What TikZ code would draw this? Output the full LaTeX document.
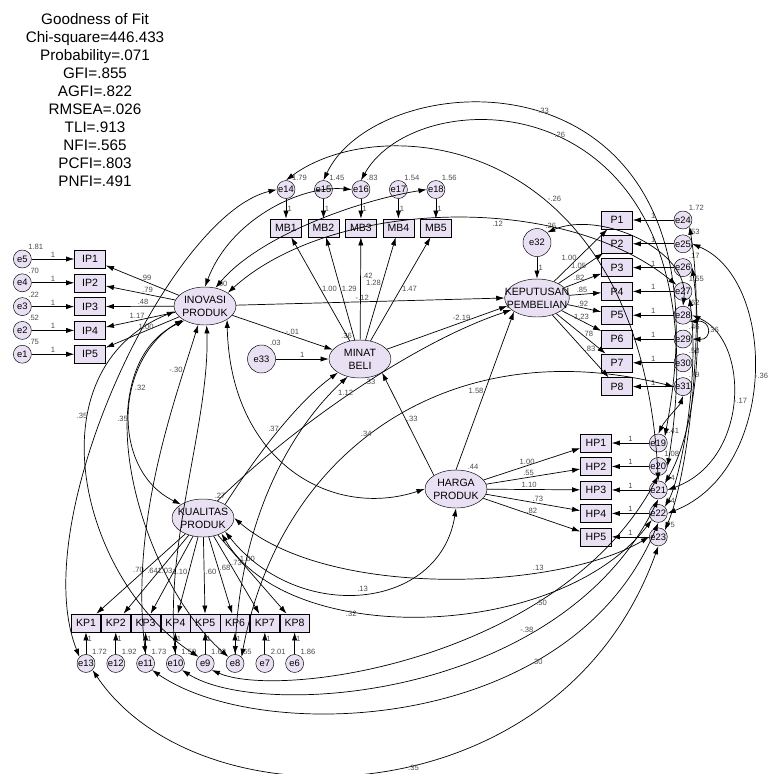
\documentclass[tikz,border=0pt]{standalone}
\usepackage{fontspec}
\setmainfont{Liberation Sans}
\usepackage{xcolor}
\usetikzlibrary{arrows.meta,positioning,shapes.geometric}
\definecolor{lav}{RGB}{233,225,243}

\begin{document}
\begin{tikzpicture}[
    x=0.03cm, y=-0.03cm,
    lat/.style={ellipse, draw, fill=lav, minimum width=1.86cm, minimum height=1.14cm, align=center, inner xsep=-8pt, inner ysep=0pt, font=\fontsize{9}{11}\selectfont},
    ind/.style={draw, fill=lav, minimum width=0.93cm, minimum height=0.54cm, inner sep=0pt, font=\fontsize{9}{10}\selectfont},
    err/.style={circle, draw, fill=lav, minimum size=0.54cm, inner sep=0pt, font=\fontsize{8}{9}\selectfont},
    lbl/.style={font=\fontsize{6.5}{7}\selectfont, text=black!70, inner sep=1pt},
    vlab/.style={label={[lbl]60:#1}},
    arrow/.style={-{Latex[length=7pt,width=4.5pt]}, line width=0.6pt},
    cov/.style={{Latex[length=7pt,width=4.5pt]}-{Latex[length=7pt,width=4.5pt]}, line width=0.6pt}
]
\useasboundingbox (0,0) rectangle (773,774);

% fit indices
\node[align=center, font=\fontsize{13}{15.3}\selectfont] (gof) at (95,100) {Goodness of Fit\\Chi-square=446.433\\Probability=.071\\GFI=.855\\AGFI=.822\\RMSEA=.026\\TLI=.913\\NFI=.565\\PCFI=.803\\PNFI=.491};

% latent variables
\node[lat, label={[lbl]60:.30}] (INOV) at (205,306) {INOVASI\\PRODUK};
\node[lat, label={[lbl]110:.36}, label={[lbl]-80:.33}] (MINAT) at (360,359) {MINAT\\BELI};
\node[lat] (KEP) at (537,298) {KEPUTUSAN\\PEMBELIAN};
\node[lat, label={[lbl]60:.44}] (HARGA) at (456,489) {HARGA\\PRODUK};
\node[lat, label={[lbl]60:.27}] (KUAL) at (203,518) {KUALITAS\\PRODUK};
\node[err, minimum size=0.84cm, vlab=.03, left=1.59cm of MINAT] (e33) {e33};
\node[err, minimum size=0.84cm, vlab=.26, above=0.66cm of KEP] (e32) {e32};

% inovasi produk
\node[ind] (IP1) at (90,259) {IP1};
\node[ind, below=0.16cm of IP1] (IP2) {IP2};
\node[ind, below=0.16cm of IP2] (IP3) {IP3};
\node[ind, below=0.16cm of IP3] (IP4) {IP4};
\node[ind, below=0.16cm of IP4] (IP5) {IP5};
\node[err, vlab=1.81, left=1.28cm of IP1] (e5) {e5};
\node[err, vlab=.70, left=1.28cm of IP2] (e4) {e4};
\node[err, vlab=.22, left=1.28cm of IP3] (e3) {e3};
\node[err, vlab=.52, left=1.28cm of IP4] (e2) {e2};
\node[err, vlab=.75, left=1.28cm of IP5] (e1) {e1};

% minat beli
\node[ind] (MB1) at (286,228) {MB1};
\node[ind, right=0.18cm of MB1] (MB2) {MB2};
\node[ind, right=0.18cm of MB2] (MB3) {MB3};
\node[ind, right=0.18cm of MB3] (MB4) {MB4};
\node[ind, right=0.18cm of MB4] (MB5) {MB5};
\node[err, vlab=1.79, above=0.6cm of MB1] (e14) {e14};
\node[err, vlab=1.45, above=0.6cm of MB2] (e15) {e15};
\node[err, vlab=.83, above=0.6cm of MB3] (e16) {e16};
\node[err, vlab=1.54, above=0.6cm of MB4] (e17) {e17};
\node[err, vlab=1.56, above=0.6cm of MB5] (e18) {e18};

% keputusan pembelian
\node[ind] (P1) at (617,220) {P1};
\node[ind, below=0.16cm of P1] (P2) {P2};
\node[ind, below=0.16cm of P2] (P3) {P3};
\node[ind, below=0.16cm of P3] (P4) {P4};
\node[ind, below=0.16cm of P4] (P5) {P5};
\node[ind, below=0.16cm of P5] (P6) {P6};
\node[ind, below=0.16cm of P6] (P7) {P7};
\node[ind, below=0.16cm of P7] (P8) {P8};
\node[err, vlab=1.72, right=1.23cm of P1] (e24) {e24};
\node[err, vlab=.53, right=1.23cm of P2] (e25) {e25};
\node[err, vlab=.17, right=1.23cm of P3] (e26) {e26};
\node[err, vlab=1.55, right=1.23cm of P4] (e27) {e27};
\node[err, vlab=.62, right=1.23cm of P5] (e28) {e28};
\node[err, vlab=.46, right=1.23cm of P6] (e29) {e29};
\node[err, vlab=.58, right=1.23cm of P7] (e30) {e30};
\node[err, vlab=.79, right=1.23cm of P8] (e31) {e31};

% harga produk
\node[ind] (HP1) at (596,443) {HP1};
\node[ind, below=0.15cm of HP1] (HP2) {HP2};
\node[ind, below=0.15cm of HP2] (HP3) {HP3};
\node[ind, below=0.15cm of HP3] (HP4) {HP4};
\node[ind, below=0.15cm of HP4] (HP5) {HP5};
\node[err, vlab=1.41, right=1.12cm of HP1] (e19) {e19};
\node[err, vlab=1.08, right=1.12cm of HP2] (e20) {e20};
\node[err, vlab=.54, right=1.12cm of HP3] (e21) {e21};
\node[err, vlab=.84, right=1.12cm of HP4] (e22) {e22};
\node[err, vlab=.75, right=1.12cm of HP5] (e23) {e23};

% kualitas produk
\node[ind, minimum width=0.88cm] (KP1) at (86,623) {KP1};
\node[ind, minimum width=0.88cm, right=0cm of KP1] (KP2) {KP2};
\node[ind, minimum width=0.88cm, right=0cm of KP2] (KP3) {KP3};
\node[ind, minimum width=0.88cm, right=0cm of KP3] (KP4) {KP4};
\node[ind, minimum width=0.88cm, right=0cm of KP4] (KP5) {KP5};
\node[ind, minimum width=0.88cm, right=0cm of KP5] (KP6) {KP6};
\node[ind, minimum width=0.88cm, right=0cm of KP6] (KP7) {KP7};
\node[ind, minimum width=0.88cm, right=0cm of KP7] (KP8) {KP8};
\node[err, vlab=1.72, below=0.66cm of KP1] (e13) {e13};
\node[err, vlab=1.92, below=0.66cm of KP2] (e12) {e12};
\node[err, vlab=1.73, below=0.66cm of KP3] (e11) {e11};
\node[err, vlab=1.59, below=0.66cm of KP4] (e10) {e10};
\node[err, vlab=1.63, below=0.66cm of KP5] (e9) {e9};
\node[err, vlab=.65, below=0.66cm of KP6] (e8) {e8};
\node[err, vlab=2.01, below=0.66cm of KP7] (e7) {e7};
\node[err, vlab=1.86, below=0.66cm of KP8] (e6) {e6};

% loadings
\draw[arrow] (INOV) -- node[lbl, pos=0.45, above] {.99} (IP1);
\draw[arrow] (INOV) -- node[lbl, pos=0.4, above] {.79} (IP2);
\draw[arrow] (INOV) -- node[lbl, pos=0.45, above] {.48} (IP3);
\draw[arrow] (INOV) -- node[lbl, pos=0.55, above] {1.17} (IP4);
\draw[arrow] (INOV) -- node[lbl, pos=0.45, above] {1.00} (IP5);
\draw[arrow] (MINAT) -- node[lbl, pos=0.5, right] {1.00} (MB1);
\draw[arrow] (MINAT) -- node[lbl, pos=0.5, right] {1.29} (MB2);
\draw[arrow] (MINAT) -- node[lbl, pos=0.62, right] {.42} (MB3);
\draw[arrow] (MINAT) -- node[lbl, pos=0.56, left] {1.28} (MB4);
\draw[arrow] (MINAT) -- node[lbl, pos=0.5, right] {1.47} (MB5);
\draw[arrow] (KEP) -- node[lbl, pos=0.45, left] {1.00} (P1);
\draw[arrow] (KEP) -- node[lbl, pos=0.45, above] {1.05} (P2);
\draw[arrow] (KEP) -- node[lbl, pos=0.4, above] {.82} (P3);
\draw[arrow] (KEP) -- node[lbl, pos=0.4, above] {.85} (P4);
\draw[arrow] (KEP) -- node[lbl, pos=0.45, above] {.92} (P5);
\draw[arrow] (KEP) -- node[lbl, pos=0.5, above] {1.23} (P6);
\draw[arrow] (KEP) -- node[lbl, pos=0.5, right] {.78} (P7);
\draw[arrow] (KEP) -- node[lbl, pos=0.55, right] {.83} (P8);
\draw[arrow] (HARGA) -- node[lbl, pos=0.45, above] {1.00} (HP1);
\draw[arrow] (HARGA) -- node[lbl, pos=0.45, above] {.55} (HP2);
\draw[arrow] (HARGA) -- node[lbl, pos=0.45, above] {1.10} (HP3);
\draw[arrow] (HARGA) -- node[lbl, pos=0.55, above] {.73} (HP4);
\draw[arrow] (HARGA) -- node[lbl, pos=0.5, above] {.82} (HP5);
\draw[arrow] (KUAL) -- node[lbl, pos=0.45, left] {.70} (KP1);
\draw[arrow] (KUAL) -- node[lbl, pos=0.45, left] {.64} (KP2);
\draw[arrow] (KUAL) -- node[lbl, pos=0.45, left] {1.03} (KP3);
\draw[arrow] (KUAL) -- node[lbl, pos=0.45, left] {1.10} (KP4);
\draw[arrow] (KUAL) -- node[lbl, pos=0.45, right] {.60} (KP5);
\draw[arrow] (KUAL) -- node[lbl, pos=0.4, right] {.68} (KP6);
\draw[arrow] (KUAL) -- node[lbl, pos=0.35, right] {.73} (KP7);
\draw[arrow] (KUAL) -- node[lbl, pos=0.3, right] {1.00} (KP8);

% error terms
\draw[arrow] (e5) -- node[lbl, above] {1} (IP1);
\draw[arrow] (e4) -- node[lbl, above] {1} (IP2);
\draw[arrow] (e3) -- node[lbl, above] {1} (IP3);
\draw[arrow] (e2) -- node[lbl, above] {1} (IP4);
\draw[arrow] (e1) -- node[lbl, above] {1} (IP5);
\draw[arrow] (e14) -- node[lbl, right] {1} (MB1);
\draw[arrow] (e15) -- node[lbl, right] {1} (MB2);
\draw[arrow] (e16) -- node[lbl, right] {1} (MB3);
\draw[arrow] (e17) -- node[lbl, right] {1} (MB4);
\draw[arrow] (e18) -- node[lbl, right] {1} (MB5);
\draw[arrow] (e24) -- node[lbl, above] {1} (P1);
\draw[arrow] (e25) -- node[lbl, above] {1} (P2);
\draw[arrow] (e26) -- node[lbl, above] {1} (P3);
\draw[arrow] (e27) -- node[lbl, above] {1} (P4);
\draw[arrow] (e28) -- node[lbl, above] {1} (P5);
\draw[arrow] (e29) -- node[lbl, above] {1} (P6);
\draw[arrow] (e30) -- node[lbl, above] {1} (P7);
\draw[arrow] (e31) -- node[lbl, above] {1} (P8);
\draw[arrow] (e19) -- node[lbl, above] {1} (HP1);
\draw[arrow] (e20) -- node[lbl, above] {1} (HP2);
\draw[arrow] (e21) -- node[lbl, above] {1} (HP3);
\draw[arrow] (e22) -- node[lbl, above] {1} (HP4);
\draw[arrow] (e23) -- node[lbl, above] {1} (HP5);
\draw[arrow] (e13) -- node[lbl, pos=0.7, right] {1} (KP1);
\draw[arrow] (e12) -- node[lbl, pos=0.7, right] {1} (KP2);
\draw[arrow] (e11) -- node[lbl, pos=0.7, right] {1} (KP3);
\draw[arrow] (e10) -- node[lbl, pos=0.7, right] {1} (KP4);
\draw[arrow] (e9) -- node[lbl, pos=0.7, right] {1} (KP5);
\draw[arrow] (e8) -- node[lbl, pos=0.7, right] {1} (KP6);
\draw[arrow] (e7) -- node[lbl, pos=0.7, right] {1} (KP7);
\draw[arrow] (e6) -- node[lbl, pos=0.7, right] {1} (KP8);
\draw[arrow] (e33) -- node[lbl, above] {1} (MINAT);
\draw[arrow] (e32) -- node[lbl, right] {1} (KEP);

% structural paths
\draw[arrow] (INOV) -- node[lbl, pos=0.47, above] {-.12} (KEP.west);
\draw[arrow] (INOV) -- node[lbl, pos=0.6, above] {-.01} (MINAT);
\draw[arrow] (MINAT.20) -- node[lbl, pos=0.62, above] {-2.19} (KEP.195);
\draw[arrow] (HARGA.north west) -- node[lbl, pos=0.55, right] {.33} (MINAT.south east);
\draw[arrow] (HARGA.north) -- node[lbl, pos=0.5, left] {1.58} (KEP.south west);
\draw[arrow] (KUAL.north east) .. controls (260,450) and (300,400) .. node[lbl, left] {.37} (MINAT.south west);
\draw[arrow] (KUAL.50) .. controls (300,420) and (420,340) .. node[lbl, pos=0.45, above] {1.12} (KEP.205);

% covariances
\draw[cov] (e14.west) .. controls (170,215) and (25,520) .. (e13.north west);
\draw[cov] (INOV.south west) .. controls (115,360) and (110,470) .. node[lbl, pos=0.38, right] {.32} (KUAL.north west);
\draw[cov] (INOV.190) .. controls (30,370) and (80,580) .. node[lbl, pos=0.35, left] {.35} (e9.north west);
\draw[cov] (INOV.215) .. controls (80,370) and (140,580) .. node[lbl, pos=0.35, left] {.35} (e8.north west);
\draw[cov] (e11.north) .. controls (130,520) and (175,400) .. node[lbl, pos=0.82, left] {-.30} (INOV.250);
\draw[cov] (e10.north) .. controls (165,540) and (210,420) .. (INOV.275);
\draw[cov] (INOV.south east) .. controls (230,460) and (330,520) .. (HARGA.west);
\draw[cov] (KUAL.south east) .. controls (300,625) and (440,610) .. node[lbl, pos=0.5, above] {.13} (HARGA.south);
\draw[cov] (KUAL.-40) .. controls (290,650) and (560,640) .. node[lbl, pos=0.35, below] {.32} (e22.south west);
\draw[cov] (KUAL.east) .. controls (330,600) and (560,590) .. node[lbl, pos=0.7, above] {.13} (e23.west);
\draw[cov] (e8.north) .. controls (240,520) and (290,430) .. (MINAT.235);
\draw[cov] (e8.north east) .. controls (280,450) and (450,330) .. node[lbl, pos=0.45, above] {.34} (e31.west);
\draw[cov] (e13.south east) .. controls (200,830) and (560,820) .. node[lbl, pos=0.55, below] {.35} (e23.south);
\draw[cov] (e11.south east) .. controls (260,745) and (570,735) .. node[lbl, pos=0.7, right] {.30} (e22.south);
\draw[cov] (e10.south east) .. controls (260,720) and (560,700) .. node[lbl, pos=0.7, above] {-.38} (e21.south);
\draw[cov] (e9.south east) .. controls (280,700) and (560,660) .. node[lbl, pos=0.72, below] {.50} (e20.south);
\draw[cov] (e15.north) .. controls (380,60) and (740,40) .. node[lbl, pos=0.5, above] {.33} (e19.north east);
\draw[cov] (e16.north) .. controls (420,75) and (730,80) .. node[lbl, pos=0.5, above] {.26} (e20.east);
\draw[cov] (e14.north) .. controls (380,110) and (640,130) .. node[lbl, pos=0.6, above right] {-.26} (e21.north);
\draw[cov] (INOV.north) .. controls (230,220) and (300,185) .. (e16.west);
\draw[cov] (INOV.60) .. controls (260,235) and (360,200) .. (e18.west);
\draw[cov] (INOV.30) .. controls (330,200) and (560,190) .. node[lbl, pos=0.6, below] {.12} (e27.north west);
\draw[cov] (e32.north east) .. controls (600,210) and (690,250) .. (e28.north);
\draw[cov] (e25.east) .. controls (778,280) and (778,470) .. node[lbl, pos=0.5, right] {-.36} (e22.east);
\draw[cov] (e28.east) .. controls (750,340) and (750,460) .. node[lbl, pos=0.5, right] {-.17} (e21.east);
\draw[cov] (e28.south east) .. controls (712,320) and (712,340) .. node[lbl, pos=0.5, right] {.36} (e29.east);
\draw[cov] (e24.south east) .. controls (705,320) and (690,470) .. (e23.north east);
\draw[cov] (e26.east) .. controls (705,360) and (690,440) .. (e21.north east);
\draw[cov] (e27.south east) .. controls (700,380) and (680,480) .. (e22.north east);
\draw[cov] (e31.south) .. controls (680,405) and (665,420) .. (e19.north);
\end{tikzpicture}
\end{document}
